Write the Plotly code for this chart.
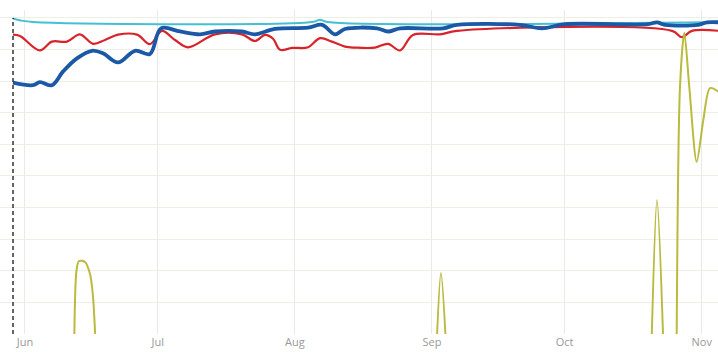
import plotly.graph_objects as go

# ---- data ----
tick_dates = ["2015-06-01", "2015-07-01", "2015-08-01", "2015-09-01", "2015-10-01", "2015-11-01"]
tick_labels = ["Jun", "Jul", "Aug", "Sep", "Oct", "Nov"]
marker_date = "2015-05-29 07:00"

cyan_dates = ["2015-05-29 07:00", "2015-05-31 00:00", "2015-06-02 19:00", "2015-08-05 00:00",
              "2015-08-06 17:00", "2015-08-08 10:00", "2015-11-05 00:00"]
cyan_values = [99.8, 99.2, 98.7, 98.7, 99.4, 98.7, 98.7]

red_dates = ["2015-05-29 07:00", "2015-05-30 21:00", "2015-06-04 09:00", "2015-06-07 02:00",
             "2015-06-10 12:00", "2015-06-13 10:00", "2015-06-16 09:00", "2015-06-19 02:00",
             "2015-06-22 01:00", "2015-06-26 08:00", "2015-06-29 06:00", "2015-07-01 23:00",
             "2015-07-04 22:00", "2015-07-07 20:00", "2015-07-13 23:00", "2015-07-20 01:00",
             "2015-07-23 00:00", "2015-07-25 06:00", "2015-07-27 02:00", "2015-07-28 16:00",
             "2015-07-31 09:00", "2015-08-04 00:00", "2015-08-06 17:00", "2015-08-09 10:00",
             "2015-08-12 08:00", "2015-08-14 15:00", "2015-08-19 03:00", "2015-08-22 02:00",
             "2015-08-24 19:00", "2015-08-27 17:00", "2015-09-02 20:00", "2015-09-06 16:00",
             "2015-10-25 07:00", "2015-10-27 13:00", "2015-10-29 19:00", "2015-11-05 00:00"]
red_values = [94.7, 94.3, 89.7, 92.5, 92.5, 94.8, 91.8, 93.0, 94.7, 94.7,
              91.7, 95.9, 93.0, 90.7, 94.8, 94.8, 92.7, 94.6, 93.4, 89.9,
              90.5, 90.7, 93.6, 92.5, 90.9, 90.6, 90.6, 91.8, 89.7, 94.6,
              94.8, 95.9, 95.9, 93.9, 95.9, 95.9]

blue_dates = ["2015-05-29 07:00", "2015-06-02 19:00", "2015-06-04 09:00", "2015-06-07 02:00",
              "2015-06-09 14:00", "2015-06-12 18:00", "2015-06-16 04:00", "2015-06-18 15:00",
              "2015-06-22 01:00", "2015-06-25 21:00", "2015-06-29 06:00", "2015-07-01 18:00",
              "2015-07-06 01:00", "2015-07-10 14:00", "2015-07-13 23:00", "2015-07-20 01:00",
              "2015-07-23 00:00", "2015-07-27 12:00", "2015-08-04 00:00", "2015-08-07 04:00",
              "2015-08-10 02:00", "2015-08-12 08:00", "2015-08-19 14:00", "2015-08-22 02:00",
              "2015-08-24 19:00", "2015-09-03 12:00", "2015-09-06 16:00", "2015-09-20 22:00",
              "2015-09-25 21:00", "2015-10-01 02:00", "2015-10-19 21:00", "2015-10-21 21:00",
              "2015-10-23 17:00", "2015-10-31 04:00", "2015-11-02 05:00", "2015-11-05 00:00"]
blue_values = [79.5, 78.7, 79.7, 78.7, 83.0, 87.2, 89.6, 88.8, 85.9, 89.6,
               88.6, 96.7, 95.7, 94.8, 95.7, 95.7, 94.8, 96.5, 96.9, 97.8,
               94.8, 96.5, 96.7, 95.7, 96.7, 96.7, 97.8, 97.8, 96.7, 98.0,
               98.0, 98.6, 97.8, 97.8, 98.6, 98.6]

# olive series: only its spikes rise into view; None separates them
olive_dates = ["2015-06-12 01:55", "2015-06-12 15:20", "2015-06-13 05:00", "2015-06-14 13:40",
               "2015-06-15 16:50", "2015-06-16 08:50", "2015-06-17 04:00",
               "2015-07-15 00:00",
               "2015-09-01 21:00", "2015-09-03 01:10", "2015-09-04 09:50",
               "2015-10-01 00:00",
               "2015-10-20 12:40", "2015-10-21 21:20", "2015-10-23 11:30",
               "2015-10-25 00:00",
               "2015-10-26 07:10", "2015-10-27 02:10", "2015-10-28 01:30", "2015-10-29 04:30",
               "2015-10-30 20:40", "2015-11-01 08:40", "2015-11-02 20:50", "2015-11-04 16:20",
               "2015-11-06 06:10"]
olive_values = [-10, 20.0, 23.1, 22.8, 19.0, 12.0, -10,
                None,
                -10, 19.3, -10,
                None,
                -10, 42.4, -10,
                None,
                -10, 78.2, 95.3, 78.2, 54.5, 67.7, 77.8, 76.7, 74.0]

x_range = ["2015-05-26 08:24", "2015-11-04 16:20"]
y_range = [0, 102.5]
y_grid = list(range(0, 101, 10))

fig = go.Figure()
fig.add_trace(go.Scatter(x=cyan_dates, y=cyan_values, mode="lines",
                         line=dict(color="#45bfd2", width=2, shape="spline")))
fig.add_trace(go.Scatter(x=red_dates, y=red_values, mode="lines",
                         line=dict(color="#d8232a", width=2.2, shape="spline")))
fig.add_trace(go.Scatter(x=blue_dates, y=blue_values, mode="lines",
                         line=dict(color="#1b59a6", width=3.8, shape="spline")))
fig.add_trace(go.Scatter(x=olive_dates, y=olive_values, mode="lines", connectgaps=False,
                         line=dict(color="#b9ba3e", width=2, shape="spline", smoothing=0.8)))

fig.add_shape(type="line", xref="x", yref="y", x0=marker_date, x1=marker_date,
              y0=0, y1=100, line=dict(color="#000000", width=1.2, dash="4px,3px"))

fig.update_layout(
    width=718, height=360,
    margin=dict(l=0, r=0, t=10, b=26),
    paper_bgcolor="white", plot_bgcolor="white",
    showlegend=False,
    font=dict(family="Open Sans, sans-serif"),
    xaxis=dict(type="date", range=x_range, tickvals=tick_dates, ticktext=tick_labels,
               showgrid=True, gridcolor="#e9e9e6", gridwidth=1, zeroline=False,
               showline=False, ticks="", tickfont=dict(color="#999999", size=11)),
    yaxis=dict(range=y_range, tickvals=y_grid, showticklabels=False,
               showgrid=True, gridcolor="#eeeee4", gridwidth=1, zeroline=False,
               showline=False, ticks=""),
)

fig.write_html("out.html", config={"displayModeBar": False},
               post_script="document.body.style.margin='0';")
